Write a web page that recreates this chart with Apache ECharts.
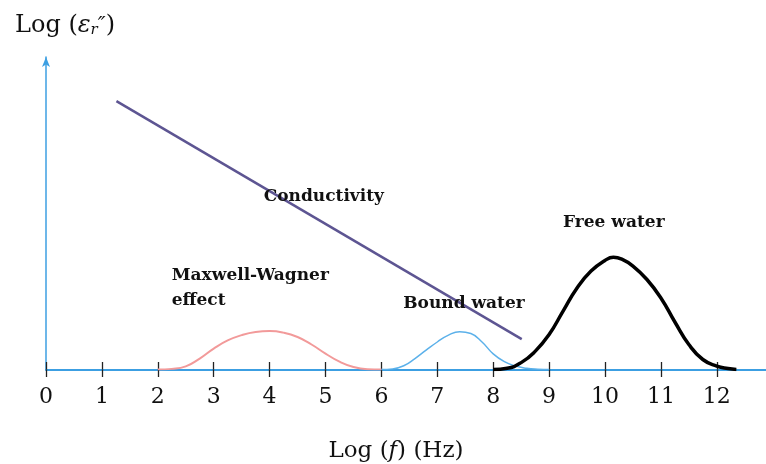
<!DOCTYPE html>
<html>
<head>
<meta charset="utf-8">
<script src="https://cdn.jsdelivr.net/npm/echarts@6/dist/echarts.min.js"></script>
<style>
html,body{margin:0;padding:0;background:#fff;}
#chart{width:766px;height:464px;}
</style>
</head>
<body>
<div id="chart"></div>
<script>
// Tick labels on the log-frequency axis
const xTickValues = [0, 1, 2, 3, 4, 5, 6, 7, 8, 9, 10, 11, 12];

// Conductivity: straight line (x = log f, y = arbitrary log eps'')
const conductivity = [[1.26, 8.59], [8.51, 0.97]];

// Maxwell-Wagner relaxation bump
const maxwellWagner = [
  [2, 0], [2.25, 0.02], [2.5, 0.1], [2.75, 0.35], [3, 0.67], [3.25, 0.93],
  [3.5, 1.1], [3.75, 1.2], [4, 1.23], [4.25, 1.18], [4.5, 1.04], [4.75, 0.8],
  [5, 0.51], [5.25, 0.25], [5.5, 0.08], [5.75, 0.01], [6, 0]
];

// Bound water relaxation bump
const boundWater = [
  [6, 0], [6.2, 0.02], [6.4, 0.12], [6.6, 0.35], [6.8, 0.62], [7, 0.88],
  [7.2, 1.1], [7.4, 1.21], [7.6, 1.15], [7.8, 0.88], [8, 0.5], [8.2, 0.25],
  [8.4, 0.11], [8.6, 0.04], [8.8, 0.01], [9, 0]
];

// Free water relaxation bump
const freeWater = [
  [8, 0], [8.25, 0.04], [8.5, 0.22], [8.75, 0.58], [9, 1.12], [9.25, 1.87],
  [9.5, 2.61], [9.75, 3.15], [10, 3.49], [10.15, 3.59], [10.3, 3.53], [10.5, 3.31],
  [10.75, 2.88], [11, 2.29], [11.25, 1.52], [11.5, 0.8], [11.75, 0.32], [12, 0.11],
  [12.2, 0.03], [12.35, 0]
];

// Annotation labels: [x, y, text, align]
const annotations = [
  [4.97, 5.52, 'Conductivity', 'center'],
  [2.25, 3.02, 'Maxwell-Wagner', 'left'],
  [2.25, 2.19, 'effect', 'left'],
  [6.39, 2.10, 'Bound water', 'left'],
  [9.25, 4.69, 'Free water', 'left']
];

const axisBlue = '#3c9fe2';
const serif = '"DejaVu Serif", "Liberation Serif", serif';

const chart = echarts.init(document.getElementById('chart'));
chart.setOption({
  animation: false,
  backgroundColor: '#ffffff',
  title: {
    left: 10,
    top: 9,
    text: '{a|Log (}{e|ε}{s|r}{p|\u2033}{a|)}',
    textStyle: {
      fontWeight: 'normal',
      rich: {
        a: { fontFamily: serif, fontSize: 24, fontWeight: 'normal', color: '#111' },
        e: { fontFamily: serif, fontSize: 24, fontWeight: 'normal', fontStyle: 'italic', color: '#111' },
        s: { fontFamily: serif, fontSize: 15, fontWeight: 'normal', fontStyle: 'italic', color: '#111', verticalAlign: 'bottom' },
        p: { fontFamily: serif, fontSize: 21, fontWeight: 'normal', fontStyle: 'italic', color: '#111' }
      }
    }
  },
  grid: { left: 46, right: 0, top: 57, bottom: 94.5, outerBoundsMode: 'none', containLabel: false },
  xAxis: [
    {
      type: 'value', min: 0, max: 12.88, position: 'bottom',
      axisLine: { show: true, lineStyle: { color: axisBlue, width: 2 } },
      axisTick: { show: true, inside: false, length: 7.5, customValues: xTickValues, lineStyle: { color: '#222', width: 1.3 } },
      axisLabel: { show: true, customValues: xTickValues, margin: 17, fontFamily: serif, fontSize: 22, color: '#111' },
      splitLine: { show: false },
      name: '{a|Log (}{f|f}{a|) (Hz)}',
      nameLocation: 'middle',
      nameGap: 70,
      nameTextStyle: {
        padding: [0, 20, 0, 0],
        rich: {
          a: { fontFamily: serif, fontSize: 23, color: '#111' },
          f: { fontFamily: serif, fontSize: 23, fontStyle: 'italic', color: '#111' }
        }
      }
    },
    {
      type: 'value', min: 0, max: 12.88, position: 'bottom',
      axisLine: { show: false },
      axisTick: { show: true, inside: true, length: 7.5, customValues: xTickValues, lineStyle: { color: '#222', width: 1.3 } },
      axisLabel: { show: false },
      splitLine: { show: false }
    }
  ],
  yAxis: {
    type: 'value', min: 0, max: 10,
    axisLine: { show: true, symbol: ['none', 'arrow'], symbolSize: [6, 10], lineStyle: { color: axisBlue, width: 1.5 } },
    axisTick: { show: false },
    axisLabel: { show: false },
    splitLine: { show: false }
  },
  series: [
    {
      type: 'line', data: maxwellWagner, smooth: 0.5, symbol: 'none',
      lineStyle: { color: '#f29a9a', width: 2 }, z: 3
    },
    {
      type: 'line', data: boundWater, smooth: 0.5, symbol: 'none',
      lineStyle: { color: '#5cb1ea', width: 1.5 }, z: 3
    },
    {
      type: 'line', data: conductivity, symbol: 'none',
      lineStyle: { color: '#5d5592', width: 2.5 }, z: 4
    },
    {
      type: 'line', data: freeWater, smooth: 0.5, symbol: 'none',
      lineStyle: { color: '#000000', width: 3.5 }, z: 5
    },
    {
      type: 'scatter', symbolSize: 0, silent: true, z: 6,
      itemStyle: { opacity: 1 },
      data: annotations.map(a => ({
        value: [a[0], a[1]],
        itemStyle: { opacity: 1 },
        label: {
          show: true, position: 'inside', formatter: a[2], align: a[3], verticalAlign: 'middle',
          fontFamily: serif, fontWeight: 'bold', fontSize: 17, color: '#111', opacity: 1,
          textBorderWidth: 0, textBorderColor: 'transparent'
        }
      }))
    }
  ]
});
</script>
</body>
</html>
